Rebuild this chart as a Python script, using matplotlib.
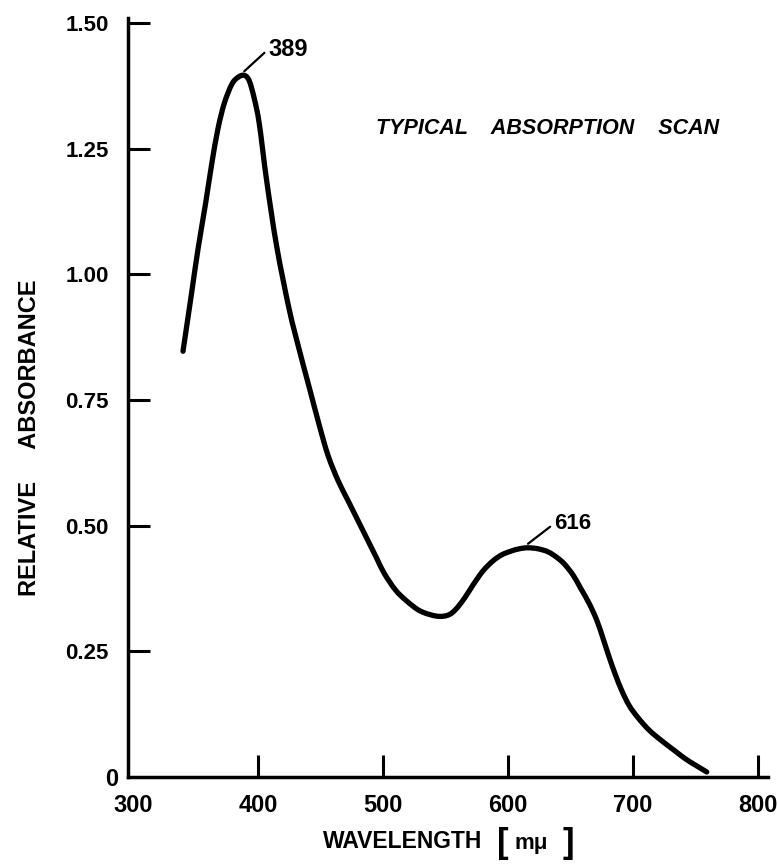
import matplotlib
matplotlib.use("Agg")
import matplotlib.pyplot as plt
from matplotlib.path import Path
from matplotlib.patches import PathPatch
import numpy as np

# ---- data ----
wavelength_nm = [340, 347, 352, 358, 363, 368, 373, 379, 384, 389, 393, 397, 401,
                 407, 415, 425, 433, 441, 449, 456, 464, 472, 480, 488, 495, 501,
                 510, 519, 530, 543, 552, 558, 565, 572, 580, 588, 595, 602, 609,
                 616, 624, 632, 639, 645, 652, 658, 665, 671, 676, 681, 686, 691,
                 697, 704, 713, 723, 733, 742, 751, 759]
rel_absorbance = [0.847, 0.965, 1.05, 1.14, 1.22, 1.29, 1.34, 1.378, 1.392, 1.396,
                  1.385, 1.35, 1.30, 1.185, 1.055, 0.93, 0.85, 0.775, 0.70, 0.64,
                  0.59, 0.55, 0.51, 0.47, 0.435, 0.405, 0.372, 0.35, 0.33, 0.32,
                  0.322, 0.333, 0.355, 0.382, 0.410, 0.430, 0.442, 0.449, 0.454,
                  0.456, 0.454, 0.448, 0.437, 0.424, 0.402, 0.376, 0.345, 0.312,
                  0.276, 0.238, 0.203, 0.172, 0.142, 0.118, 0.093, 0.072, 0.053,
                  0.036, 0.022, 0.010]
x_ticks = [300, 400, 500, 600, 700, 800]
x_tick_labels = ["300", "400", "500", "600", "700", "800"]
y_ticks = [0.25, 0.50, 0.75, 1.00, 1.25, 1.50]
y_tick_labels = ["0.25", "0.50", "0.75", "1.00", "1.25", "1.50"]
zero_label = "0"
peak_labels = [389, 616]
title_text = "TYPICAL    ABSORPTION    SCAN"
y_label = "RELATIVE     ABSORBANCE"
x_label = "WAVELENGTH"
unit_label = "m\u03bc"

plt.rcParams["font.family"] = ["Liberation Sans", "DejaVu Sans"]
plt.rcParams["font.weight"] = "bold"

W, H = 778, 865
fig = plt.figure(figsize=(W / 100, H / 100), dpi=100)
ax = fig.add_axes([128 / W, (H - 777) / H, 640 / W, 759 / H])

# smooth curve through the read points (Catmull-Rom drawn as cubic Bezier path)
wl = np.array(wavelength_nm, dtype=float)
ab = np.array(rel_absorbance, dtype=float)
pts = np.column_stack([wl, ab])
ext = np.vstack([pts[0] - (pts[1] - pts[0]), pts, pts[-1] + (pts[-1] - pts[-2])])
verts = [tuple(pts[0])]
codes = [Path.MOVETO]
for i in range(1, len(ext) - 2):
    p0, p1, p2, p3 = ext[i - 1], ext[i], ext[i + 1], ext[i + 2]
    c1 = p1 + (p2 - p0) / 6.0
    c2 = p2 - (p3 - p1) / 6.0
    verts += [tuple(c1), tuple(c2), tuple(p2)]
    codes += [Path.CURVE4] * 3
ax.add_patch(PathPatch(Path(verts, codes), facecolor="none", edgecolor="black",
                       lw=3.8, capstyle="round", joinstyle="round"))

ax.set_xlim(296, 808)
ax.set_ylim(0, 1.51)
for s in ["top", "right"]:
    ax.spines[s].set_visible(False)
for s in ["left", "bottom"]:
    ax.spines[s].set_linewidth(2.5)

ax.set_xticks(x_ticks)
ax.set_xticklabels(x_tick_labels)
ax.set_yticks(y_ticks)
ax.set_yticklabels(y_tick_labels)
ax.tick_params(axis="x", direction="in", length=16, width=2.2, pad=12, labelsize=17)
ax.tick_params(axis="y", direction="in", length=16, width=2.2, pad=14, labelsize=16)
ax.xaxis.get_major_ticks()[0].tick1line.set_visible(False)

ax.annotate(zero_label, xy=(0, 0), xycoords="axes fraction", xytext=(-10, -3),
            textcoords="offset pixels", ha="right", va="center", fontsize=17)

# peak annotations
offsets = [(24, 22), (26, 20)]
sizes = [17, 16]
for lab, off, fs in zip(peak_labels, offsets, sizes):
    py = np.interp(lab, wl, ab)
    ax.annotate(str(lab), xy=(lab, py + 0.008), xytext=off, textcoords="offset pixels",
                ha="left", va="center", fontsize=fs,
                arrowprops=dict(arrowstyle="-", lw=1.6, color="black",
                                relpos=(0, 0.5), shrinkA=1, shrinkB=0))

fig.text(548 / W, 1 - 128 / H, title_text, ha="center", va="center",
         fontsize=15.5, style="italic")
fig.text(30 / W, 1 - 438 / H, y_label, rotation=90, ha="center", va="center",
         fontsize=17)
fig.text(403 / W, 1 - 841 / H, x_label, ha="center", va="center", fontsize=16.5)
fig.text(503 / W, 1 - 843 / H, "[", ha="center", va="center", fontsize=25)
fig.text(531 / W, 1 - 843 / H, unit_label, ha="center", va="center", fontsize=16)
fig.text(568 / W, 1 - 843 / H, "]", ha="center", va="center", fontsize=25)

fig.savefig("out.png", dpi=100)
